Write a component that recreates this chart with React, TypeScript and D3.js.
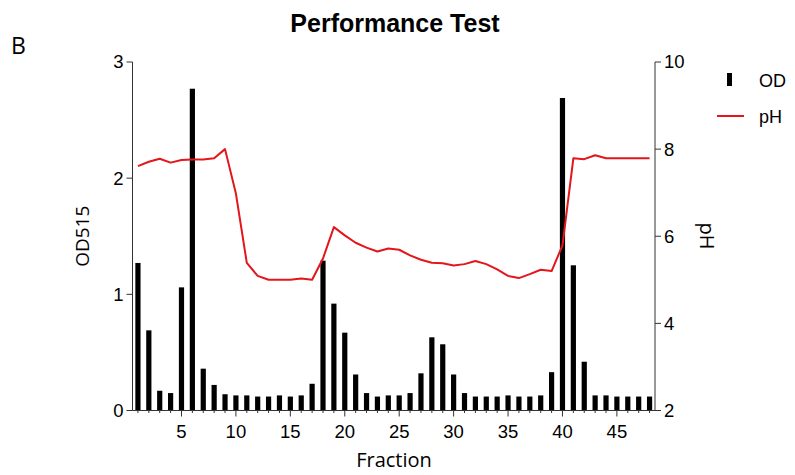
import React from "react";
import * as d3 from "d3";

// fractions 1..48
const fractions = d3.range(1, 49);

// OD515 per fraction (bars)
const odValues = [
  1.27, 0.69, 0.17, 0.15, 1.06, 2.77, 0.36, 0.22, 0.14, 0.13,
  0.13, 0.12, 0.12, 0.13, 0.12, 0.13, 0.23, 1.29, 0.92, 0.67,
  0.31, 0.15, 0.12, 0.13, 0.13, 0.15, 0.32, 0.63, 0.57, 0.31,
  0.15, 0.12, 0.12, 0.12, 0.13, 0.12, 0.12, 0.13, 0.33, 2.69,
  1.25, 0.42, 0.13, 0.13, 0.12, 0.12, 0.12, 0.12,
];

// pH per fraction (line)
const phValues = [
  7.61, 7.71, 7.78, 7.69, 7.75, 7.76, 7.76, 7.79, 8.0, 6.98,
  5.39, 5.09, 5.0, 5.0, 5.0, 5.03, 5.0, 5.49, 6.21, 6.02,
  5.85, 5.74, 5.65, 5.72, 5.69, 5.56, 5.46, 5.39, 5.38, 5.33,
  5.36, 5.43, 5.36, 5.24, 5.09, 5.04, 5.13, 5.23, 5.2, 5.79,
  7.79, 7.77, 7.86, 7.79, 7.79, 7.79, 7.79, 7.79,
];

const odTicks = [0, 1, 2, 3];
const phTicks = [2, 4, 6, 8, 10];
const xMajorTicks = [5, 10, 15, 20, 25, 30, 35, 40, 45];

const tickFont = "'Liberation Sans', Arial, sans-serif";
const labelFont = "'Open Sans', 'Liberation Sans', sans-serif";
const red = "#e3161b";

export default function App() {
  const left = 132.5;
  const right = 655;
  const top = 62;
  const bottom = 410.5;

  const x = d3.scaleBand<number>().domain(fractions).range([left, right]).padding(0);
  const cx = (f: number) => (x(f) as number) + x.bandwidth() / 2;
  const yOd = d3.scaleLinear().domain([0, 3]).range([bottom, top]);
  const yPh = d3.scaleLinear().domain([2, 10]).range([bottom, top]);
  const barW = 5.2;

  const line = d3
    .line<number>()
    .x((_, i) => cx(fractions[i]))
    .y((d) => yPh(d));

  return (
    <svg
      width={795}
      height={475}
      style={{ position: "absolute", left: 0, top: 0, background: "#fff" }}
    >
      {/* title */}
      <text x={395} y={32} textAnchor="middle" fontFamily={tickFont} fontWeight="bold" fontSize={25}>
        Performance Test
      </text>
      <text x={11} y={54} fontFamily={labelFont} fontSize={23}>
        B
      </text>

      {/* bars */}
      {odValues.map((v, i) => (
        <rect
          key={i}
          x={cx(fractions[i]) - barW / 2}
          y={yOd(v)}
          width={barW}
          height={yOd(0) - yOd(v)}
          fill="#000"
        />
      ))}

      {/* pH line */}
      <path d={line(phValues) || ""} fill="none" stroke={red} strokeWidth={2} strokeLinejoin="round" />

      {/* left axis */}
      <line x1={left} x2={left} y1={top} y2={bottom} stroke="#333" strokeWidth={1} />
      {odTicks.map((t) => (
        <g key={t}>
          <line x1={left - 6} x2={left} y1={yOd(t)} y2={yOd(t)} stroke="#333" />
          <text x={left - 9} y={yOd(t)} dy="0.35em" textAnchor="end" fontFamily={tickFont} fontSize={18.5}>
            {t}
          </text>
        </g>
      ))}
      <text
        transform={`translate(89,${(top + bottom) / 2}) rotate(-90)`}
        textAnchor="middle"
        fontFamily={labelFont}
        fontSize={19}
      >
        OD515
      </text>

      {/* right axis */}
      <line x1={right} x2={right} y1={top} y2={bottom} stroke="#333" strokeWidth={1} />
      {phTicks.map((t) => (
        <g key={t}>
          <line x1={right} x2={right + 6} y1={yPh(t)} y2={yPh(t)} stroke="#333" />
          <text x={right + 9} y={yPh(t)} dy="0.35em" fontFamily={tickFont} fontSize={18.5}>
            {t}
          </text>
        </g>
      ))}
      <text
        transform={`translate(700,236) rotate(90)`}
        textAnchor="middle"
        fontFamily={labelFont}
        fontSize={20}
      >
        pH
      </text>

      {/* x axis */}
      <line x1={left} x2={right} y1={bottom} y2={bottom} stroke="#333" strokeWidth={1} />
      {fractions.map((f) => (
        <line
          key={f}
          x1={cx(f)}
          x2={cx(f)}
          y1={bottom}
          y2={bottom + (f % 5 === 0 ? 6 : 2.5)}
          stroke="#333"
        />
      ))}
      {xMajorTicks.map((t) => (
        <text key={t} x={cx(t)} y={438} textAnchor="middle" fontFamily={tickFont} fontSize={18.5}>
          {t}
        </text>
      ))}
      <text x={394} y={467} textAnchor="middle" fontFamily={labelFont} fontSize={20}>
        Fraction
      </text>

      {/* legend */}
      <rect x={727} y={73} width={5} height={13} fill="#000" />
      <text x={759} y={87} fontFamily={tickFont} fontSize={18}>
        OD
      </text>
      <line x1={717} x2={744} y1={116} y2={116} stroke={red} strokeWidth={2} />
      <text x={759} y={123} fontFamily={tickFont} fontSize={18}>
        pH
      </text>
    </svg>
  );
}
